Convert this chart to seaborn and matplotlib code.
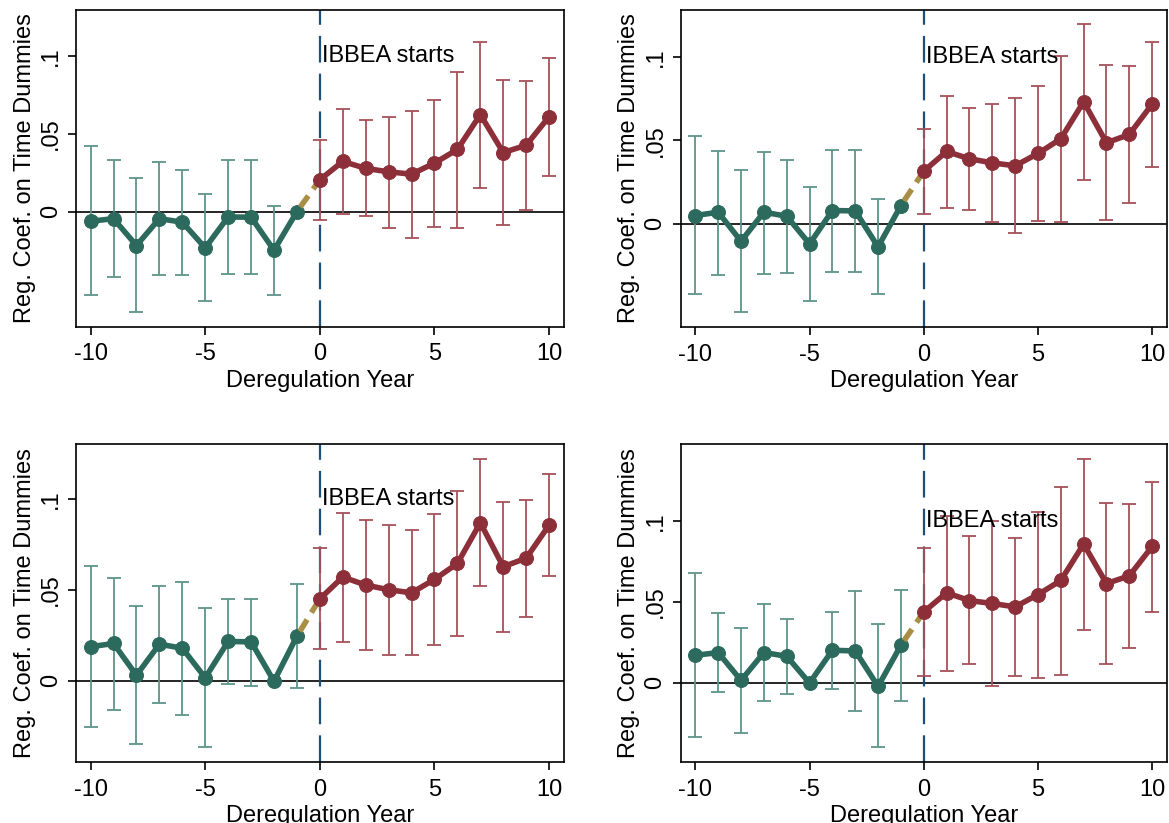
import numpy as np
import pandas as pd
import matplotlib
matplotlib.use('Agg')
import matplotlib.pyplot as plt
import seaborn as sns

nan = np.nan
years = list(range(-10, 11))

# panel 1 (top left)
p1_coef = [-0.0062, -0.0045, -0.0218, -0.0045, -0.0068, -0.0233, -0.0034, -0.0036, -0.0248, 0.0,
           0.0205, 0.0323, 0.0278, 0.0256, 0.0241, 0.0312, 0.040, 0.0624, 0.038, 0.0427, 0.0611]
p1_hi = [0.0419, 0.033, 0.0214, 0.032, 0.0269, 0.0113, 0.0333, 0.0333, 0.0036, nan,
         0.0462, 0.066, 0.0588, 0.0611, 0.0645, 0.072, 0.09, 0.109, 0.0846, 0.0842, 0.0989]
p1_lo = [-0.0536, -0.042, -0.0645, -0.041, -0.0408, -0.0575, -0.0402, -0.0404, -0.0536, nan,
         -0.0051, -0.0015, -0.003, -0.0105, -0.0167, -0.0098, -0.0105, 0.0152, -0.0088, 0.0013, 0.0231]

# panel 2 (top right)
p2_coef = [0.0048, 0.0068, -0.0106, 0.0068, 0.0044, -0.0122, 0.0078, 0.0076, -0.014, 0.0108,
           0.0314, 0.0432, 0.0388, 0.0364, 0.0346, 0.042, 0.0508, 0.073, 0.0484, 0.0534, 0.0716]
p2_hi = [0.0524, 0.0434, 0.0322, 0.0428, 0.0378, 0.0218, 0.044, 0.044, 0.0148, nan,
         0.0568, 0.0764, 0.0692, 0.0716, 0.075, 0.0824, 0.1002, 0.1198, 0.0952, 0.0944, 0.109]
p2_lo = [-0.0424, -0.0308, -0.0532, -0.0304, -0.0296, -0.0462, -0.0288, -0.0292, -0.0424, nan,
         0.006, 0.0092, 0.0082, 0.0008, -0.0056, 0.0014, 0.0008, 0.0262, 0.0024, 0.0124, 0.034]

# panel 3 (bottom left)
p3_coef = [0.0188, 0.0206, 0.0031, 0.0202, 0.018, 0.0017, 0.0217, 0.0215, -0.0002, 0.0246,
           0.0452, 0.0572, 0.0528, 0.0502, 0.0485, 0.0559, 0.0647, 0.0871, 0.0629, 0.0676, 0.0858]
p3_hi = [0.0632, 0.0568, 0.0412, 0.0524, 0.0546, 0.0399, 0.0449, 0.0452, nan, 0.0535,
         0.073, 0.0925, 0.0884, 0.086, 0.0829, 0.0919, 0.1046, 0.1222, 0.0987, 0.0996, 0.1138]
p3_lo = [-0.0256, -0.0162, -0.0346, -0.0123, -0.0188, -0.0366, -0.002, -0.0028, nan, -0.004,
         0.0176, 0.0215, 0.0169, 0.0143, 0.0145, 0.0199, 0.0248, 0.0522, 0.027, 0.0353, 0.0577]

# panel 4 (bottom right)
p4_coef = [0.0169, 0.0186, 0.0014, 0.0186, 0.0163, -0.0002, 0.02, 0.0196, -0.0023, 0.0231,
           0.0437, 0.0555, 0.0507, 0.0489, 0.0468, 0.0544, 0.0631, 0.0856, 0.0612, 0.066, 0.0841]
p4_hi = [0.0678, 0.0429, 0.034, 0.0485, 0.0394, nan, 0.0437, 0.0569, 0.0365, 0.0571,
         0.0831, 0.1031, 0.0907, 0.0996, 0.0895, 0.1056, 0.1208, 0.1379, 0.1111, 0.1101, 0.1241]
p4_lo = [-0.0336, -0.006, -0.0311, -0.0115, -0.0072, nan, -0.0041, -0.0177, -0.04, -0.0111,
         0.0043, 0.0074, 0.0115, -0.0023, 0.0043, 0.0027, 0.0049, 0.0328, 0.0115, 0.0214, 0.0439]

ylims = [(-0.074, 0.130), (-0.062, 0.128), (-0.0447, 0.1305), (-0.049, 0.1474)]
yticks = [0, 0.05, 0.1]
ytick_labels = ['0', '.05', '.1']

sns.set_style('white')
plt.rcParams['font.family'] = ['Liberation Sans', 'DejaVu Sans']
plt.rcParams['text.color'] = 'black'
plt.rcParams['axes.labelcolor'] = 'black'

green = '#2b6a5d'
green_ci = '#5e948a'
red = '#8c2f39'
red_ci = '#a5525b'
olive = '#a88f45'
navy = '#1f4e79'
fs = 17

W, H = 1169, 823
fig = plt.figure(figsize=(W / 100, H / 100), dpi=100)
# axes boxes in pixels: left, right, top, bottom
boxes = [(75.7, 564, 9.5, 326.7), (680.5, 1167, 10, 327),
         (75.7, 564, 444, 762), (680.5, 1167, 444, 762)]

panels = [(p1_coef, p1_lo, p1_hi), (p2_coef, p2_lo, p2_hi),
          (p3_coef, p3_lo, p3_hi), (p4_coef, p4_lo, p4_hi)]

for (coef, lo, hi), (l, r, t, b), yl in zip(panels, boxes, ylims):
    ax = fig.add_axes([l / W, 1 - b / H, (r - l) / W, (b - t) / H])
    df = pd.DataFrame({'year': years, 'coef': coef, 'lo': lo, 'hi': hi})
    pre = df[df.year <= -1]
    post = df[df.year >= 0]
    link = df[(df.year >= -1) & (df.year <= 0)]

    ax.axhline(0, color='black', lw=1.2, zorder=1)
    ax.axvline(0, color=navy, lw=1.6, dashes=(12, 5), zorder=1.5)

    for part, c in [(pre, green_ci), (post, red_ci)]:
        ok = part.dropna(subset=['lo', 'hi'])
        ax.errorbar(ok.year, ok.coef, yerr=[ok.coef - ok.lo, ok.hi - ok.coef],
                    fmt='none', ecolor=c, elinewidth=1.3, capsize=5, capthick=1.3, zorder=2)

    sns.lineplot(data=pre, x='year', y='coef', color=green, lw=4, marker='o',
                 markersize=10, markeredgecolor=green, ax=ax, zorder=4)
    sns.lineplot(data=link, x='year', y='coef', color=olive, lw=4, ax=ax,
                 zorder=4.5).lines[-1].set_linestyle((3, (2.5, 1.5)))
    sns.lineplot(data=post, x='year', y='coef', color=red, lw=4, marker='o',
                 markersize=10, markeredgecolor=red, ax=ax, zorder=5)

    ax.text(0.08, 0.1, 'IBBEA starts', fontsize=fs, ha='left', va='center', zorder=6)

    ax.set_xlim(-10.65, 10.65)
    ax.set_ylim(*yl)
    ax.set_xticks([-10, -5, 0, 5, 10])
    ax.set_xticklabels(['-10', '-5', '0', '5', '10'])
    ax.set_yticks(yticks)
    ax.set_yticklabels(ytick_labels, rotation=90, va='center')
    ax.tick_params(axis='both', direction='out', length=6, width=1.2, color='black',
                   labelsize=fs, labelcolor='black', pad=4, left=True, bottom=True)
    ax.tick_params(axis='x', pad=6)
    ax.set_xlabel('Deregulation Year', fontsize=fs, labelpad=3)
    ax.set_ylabel('Reg. Coef. on Time Dummies', fontsize=fs, labelpad=3)
    for s in ax.spines.values():
        s.set_visible(True)
        s.set_color('black')
        s.set_linewidth(1.2)
    ax.grid(False)

fig.savefig('out.png', dpi=100)
